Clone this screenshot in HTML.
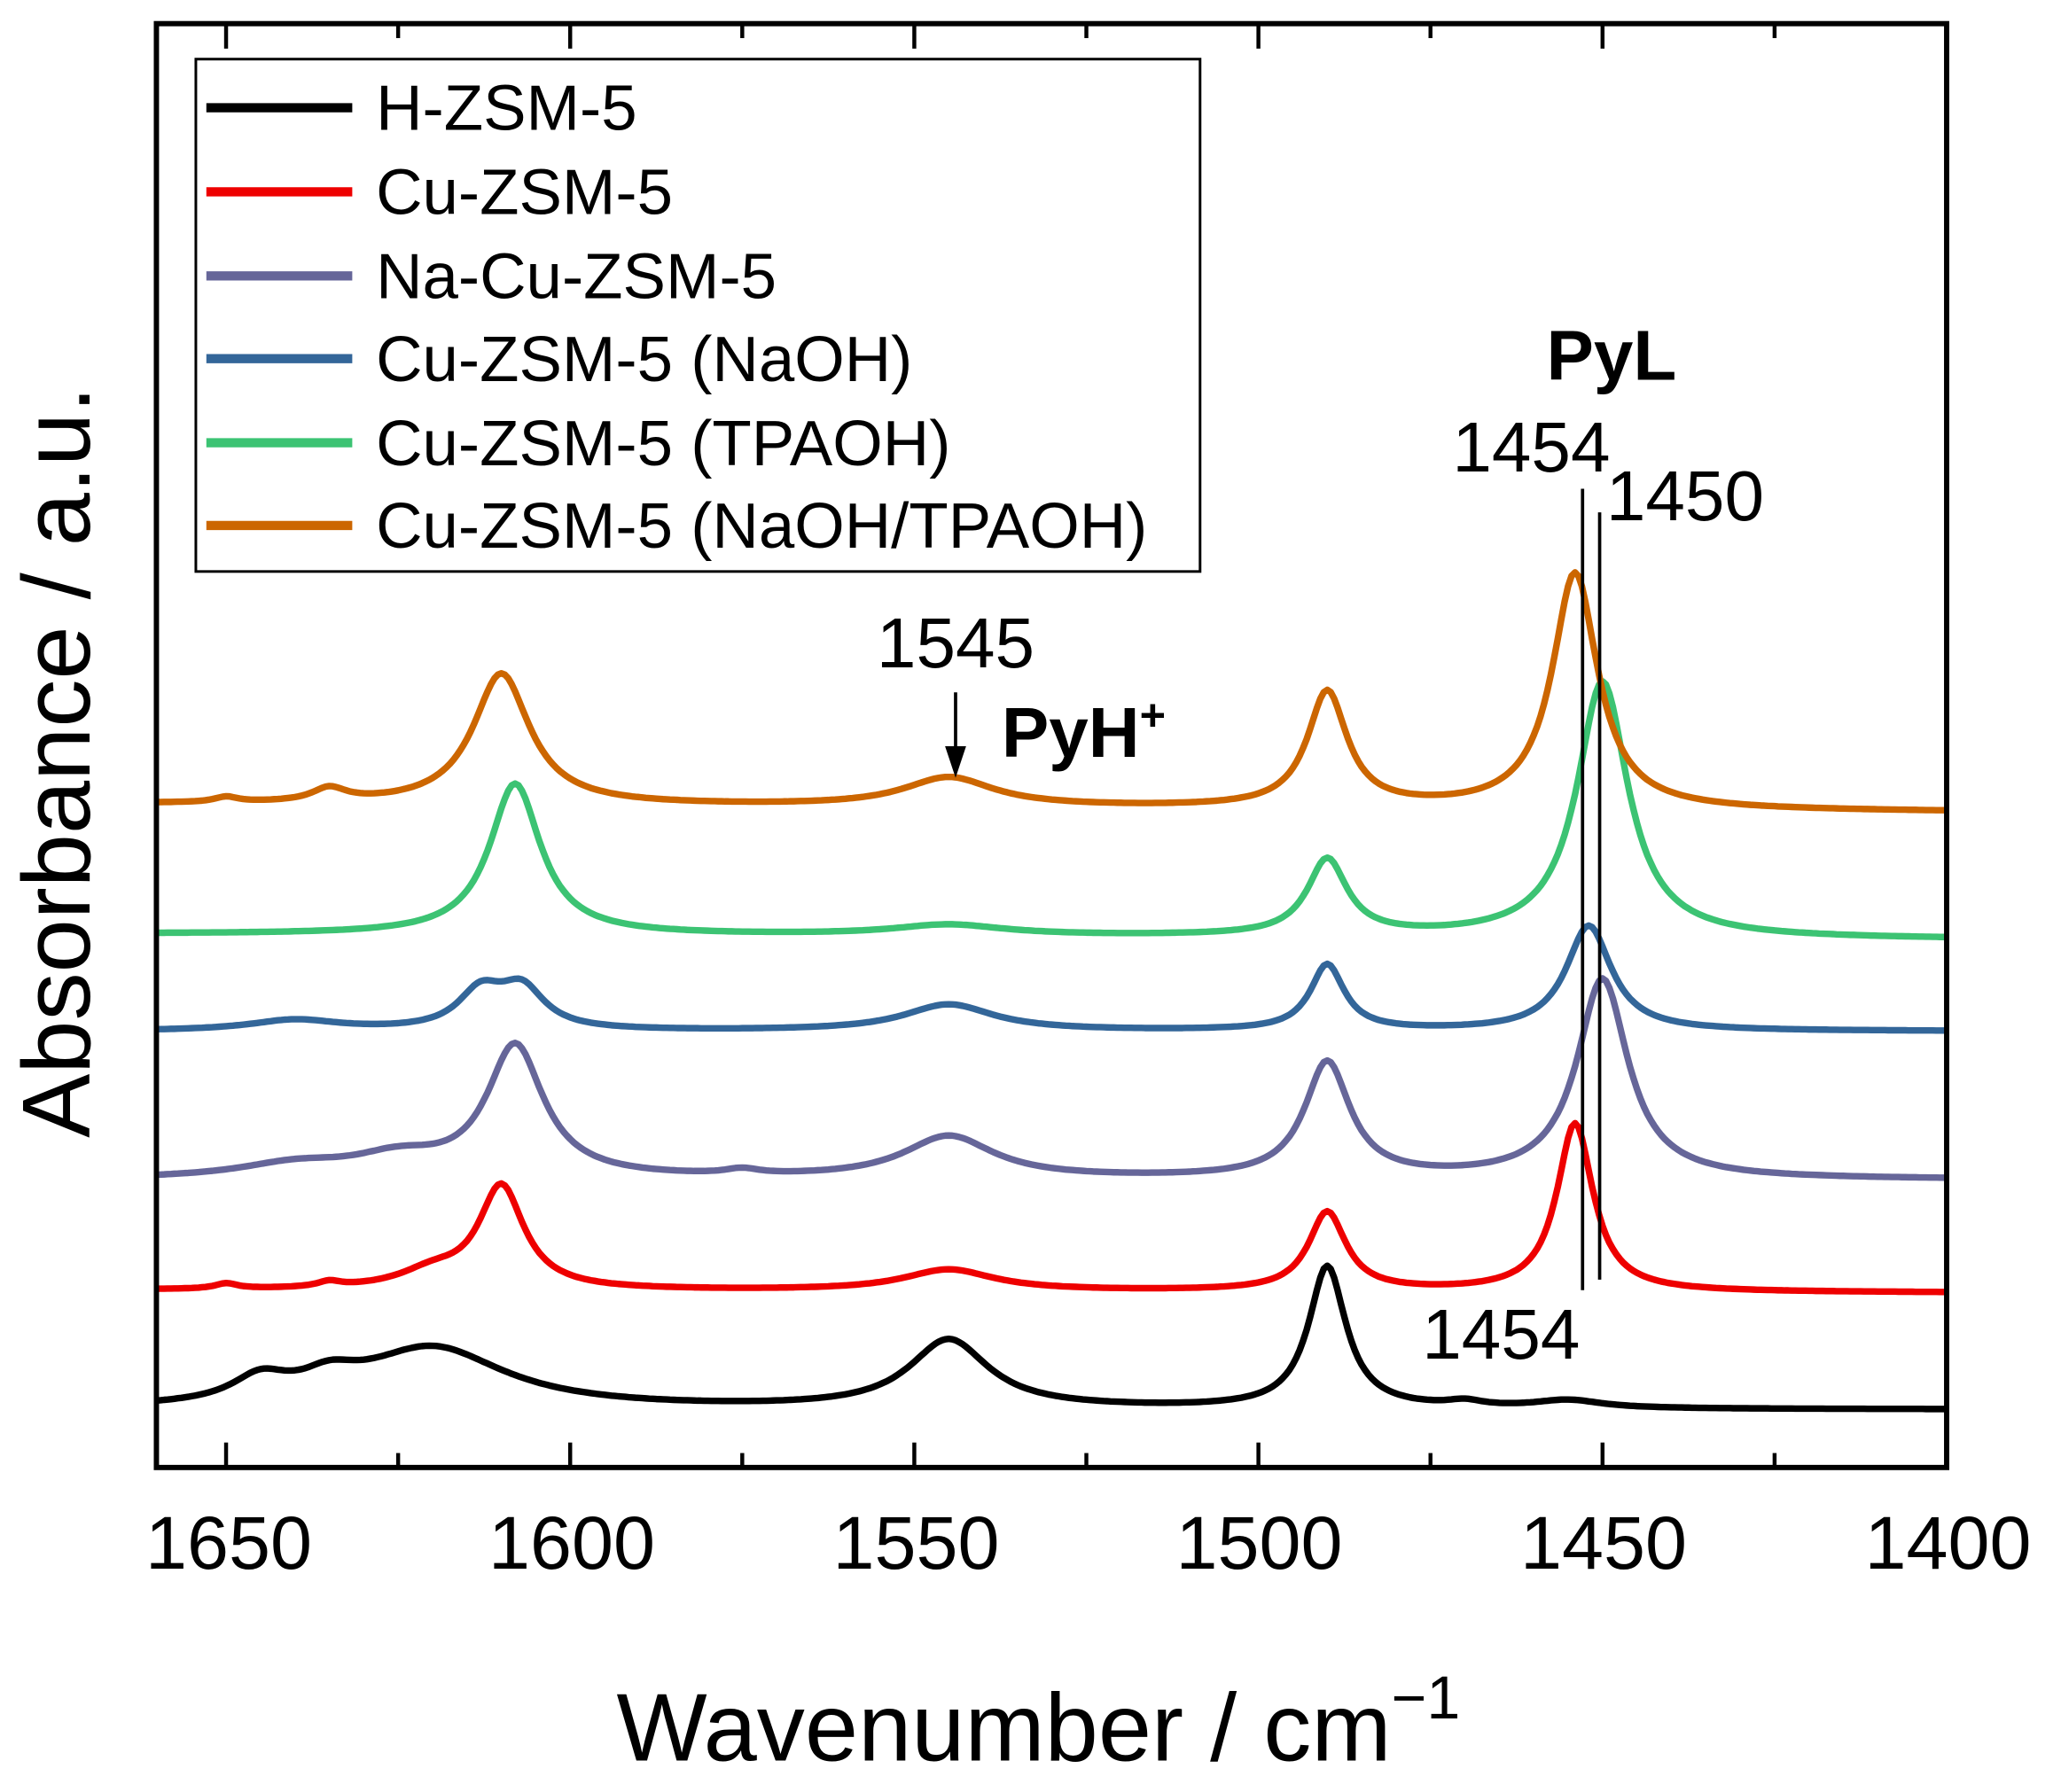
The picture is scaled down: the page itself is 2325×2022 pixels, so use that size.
<!DOCTYPE html>
<html><head><meta charset="utf-8"><style>
html,body{margin:0;padding:0;background:#fff;}
svg{display:block;}
text{font-family:"Liberation Sans",Arial,sans-serif;fill:#000;}
</style></head><body>
<svg id="s" width="2325" height="2022" viewBox="0 0 1568 1364" preserveAspectRatio="none" xmlns="http://www.w3.org/2000/svg">
<g id="curves" fill="none" stroke-width="5" stroke-linejoin="round"></g>
<rect x="119" y="18" width="1362" height="1099" fill="none" stroke="#000" stroke-width="4"/>
<g id="ticks" stroke="#000" stroke-width="3"></g>
<g font-size="57" text-anchor="middle">
<text x="174" y="1194">1650</text><text x="435" y="1194">1600</text><text x="697" y="1194">1550</text>
<text x="958" y="1194">1500</text><text x="1220" y="1194">1450</text><text x="1482" y="1194">1400</text>
</g>
<text x="790" y="1340" font-size="73" text-anchor="middle">Wavenumber / cm<tspan dy="-32" font-size="46">−1</tspan></text>
<text transform="translate(68,580) rotate(-90)" font-size="73" text-anchor="middle">Absorbance / a.u.</text>
<rect x="149" y="45" width="764" height="390" fill="#fff" stroke="#000" stroke-width="2"/>
<g stroke-width="7">
<line x1="157" y1="82" x2="268" y2="82" stroke="#000"/>
<line x1="157" y1="146" x2="268" y2="146" stroke="#ee0000"/>
<line x1="157" y1="210" x2="268" y2="210" stroke="#666699"/>
<line x1="157" y1="273" x2="268" y2="273" stroke="#336699"/>
<line x1="157" y1="337" x2="268" y2="337" stroke="#3cc373"/>
<line x1="157" y1="400" x2="268" y2="400" stroke="#cc6600"/>
</g>
<g font-size="49">
<text x="286" y="99">H-ZSM-5</text>
<text x="286" y="163">Cu-ZSM-5</text>
<text x="286" y="227">Na-Cu-ZSM-5</text>
<text x="286" y="290">Cu-ZSM-5 (NaOH)</text>
<text x="286" y="354">Cu-ZSM-5 (TPAOH)</text>
<text x="286" y="417">Cu-ZSM-5 (NaOH/TPAOH)</text>
</g>
<g stroke="#000" stroke-width="2.5">
<line x1="1204" y1="372" x2="1204" y2="982"/>
<line x1="1217" y1="390" x2="1217" y2="974"/>
<line x1="727" y1="527" x2="727" y2="570"/>
</g>
<polygon points="719,568 735,568 727,592" fill="#000"/>
<g font-size="54">
<text x="1165" y="359" text-anchor="middle">1454</text>
<text x="1282" y="396" text-anchor="middle">1450</text>
<text x="727" y="508" text-anchor="middle">1545</text>
<text x="1142" y="1034" text-anchor="middle">1454</text>
<text x="1226" y="289" text-anchor="middle" font-weight="bold">PyL</text>
<text x="762" y="576" font-weight="bold">PyH<tspan dy="-20" font-size="34">+</tspan></text>
</g>
</svg>
<script>
(function(){
var NS="http://www.w3.org/2000/svg";
function X(w){return 1481-(w-1400)*(1481-172)/250;}
var tk=document.getElementById("ticks");
for(var w=1400;w<=1650;w+=25){
 var major=(w%50===0), L=major?19:11, x=X(w);
 [[1117,1117-L],[18,18+L]].forEach(function(p){
  var l=document.createElementNS(NS,"line");
  l.setAttribute("x1",x);l.setAttribute("x2",x);l.setAttribute("y1",p[0]);l.setAttribute("y2",p[1]);tk.appendChild(l);
 });
}
var series=[
 {c:"#000",b0:1073,b1:1073,p:[[1645,18,5],[1635,14,5],[1620,46,13],[1545,52,7],[1490,108,3.3],[1470,4,3],[1455,6,6]]},
 {c:"#ee0000",b0:982,b1:984,p:[[1650,4,2],[1635,4,2],[1620,12,6],[1610,78,4],[1545,16,8],[1490,60,3.3],[1454,128,3.2]]},
 {c:"#666699",b0:898,b1:898,p:[[1640,10,10],[1625,14,8],[1608,100,5],[1575,4,3],[1545,32,8],[1490,88,4],[1450,152,4.5]]},
 {c:"#336699",b0:785,b1:785,p:[[1640,8,8],[1613,28,4],[1607,30,4],[1545,20,8],[1490,50,3],[1452,80,4]]},
 {c:"#3cc373",b0:711,b1:715,p:[[1608,115,4.5],[1545,8,10],[1490,58,3.5],[1450,195,4.5]]},
 {c:"#cc6600",b0:612,b1:618,p:[[1650,4,2],[1635,10,3],[1610,100,5],[1545,22,8],[1490,88,3.5],[1454,180,4]]}
];
var g=document.getElementById("curves");
series.forEach(function(s){
 var d="";
 for(var w=1660;w>=1400;w-=0.5){
  var y=s.b0+(s.b1-s.b0)*(1660-w)/260;
  s.p.forEach(function(p){var t=(w-p[0])/p[2];y-=p[1]/(1+t*t);});
  d+=(d?"L":"M")+X(w).toFixed(1)+" "+y.toFixed(1);
 }
 var pa=document.createElementNS(NS,"path");
 pa.setAttribute("d",d);pa.setAttribute("stroke",s.c);g.appendChild(pa);
});
})();
</script>
</body></html>
